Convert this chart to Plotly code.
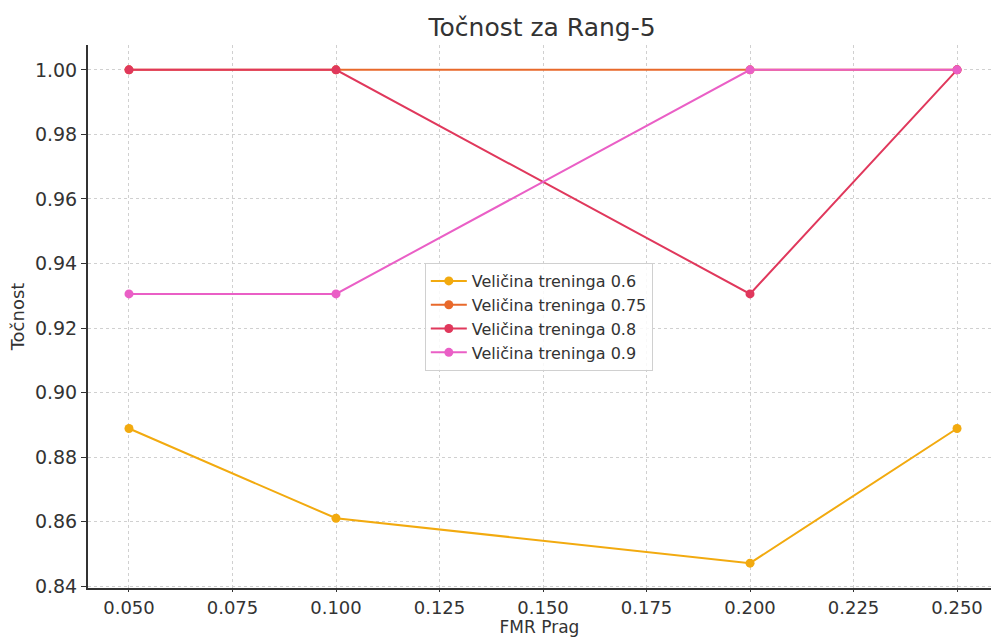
import plotly.graph_objects as go

fmr = [0.05, 0.10, 0.20, 0.25]
series_names = ["Veličina treninga 0.6", "Veličina treninga 0.75", "Veličina treninga 0.8", "Veličina treninga 0.9"]
acc_06 = [0.8889, 0.8611, 0.8472, 0.8889]
acc_075 = [1.0, 1.0, 1.0, 1.0]
acc_08 = [1.0, 1.0, 0.9306, 1.0]
acc_09 = [0.9306, 0.9306, 1.0, 1.0]
colors = ["#F2AA0F", "#E8692B", "#E0385C", "#EA5FC6"]
x_ticks = [0.05, 0.075, 0.1, 0.125, 0.15, 0.175, 0.2, 0.225, 0.25]
y_ticks = [0.84, 0.86, 0.88, 0.90, 0.92, 0.94, 0.96, 0.98, 1.00]

fig = go.Figure()
for name, vals, c in zip(series_names, [acc_06, acc_075, acc_08, acc_09], colors):
    fig.add_trace(go.Scatter(x=fmr, y=vals, mode="lines+markers", name=name,
                             line=dict(color=c, width=2), marker=dict(color=c, size=9)))

fig.update_layout(
    width=991, height=637,
    paper_bgcolor="white", plot_bgcolor="white",
    margin=dict(l=88, r=0, t=45, b=49, autoexpand=False),
    font=dict(family="DejaVu Sans", color="#333333"),
    title=dict(text="Točnost za Rang-5", x=0.547, xanchor="center", y=0.957, yanchor="middle",
               font=dict(size=25, color="#333333")),
    legend=dict(x=0.373, y=0.5985, xanchor="left", yanchor="top",
                bgcolor="rgba(255,255,255,0.85)", bordercolor="#d0d0d0", borderwidth=1,
                font=dict(size=16, color="#333333"), tracegroupgap=0, itemwidth=36),
    showlegend=True,
)
fig.update_xaxes(range=[0.0401, 0.2582], tickvals=x_ticks, ticktext=[f"{v:.3f}" for v in x_ticks],
                 automargin=False,
                 showgrid=True, gridcolor="#d0d0d0", griddash="3px,3px", gridwidth=1,
                 showline=True, linecolor="#333333", linewidth=2, ticks="outside", ticklen=2,
                 tickcolor="#333333", tickfont=dict(size=18), zeroline=False,
                 title=dict(text="FMR Prag", font=dict(size=17), standoff=7))
fig.update_yaxes(range=[0.8395, 1.0077], tickvals=y_ticks, ticktext=[f"{v:.2f}" for v in y_ticks],
                 automargin=False,
                 showgrid=True, gridcolor="#d0d0d0", griddash="3px,3px", gridwidth=1,
                 showline=True, linecolor="#333333", linewidth=2, ticks="outside", ticklen=5,
                 tickcolor="#333333", tickfont=dict(size=19), zeroline=False,
                 title=dict(text="Točnost", font=dict(size=18), standoff=6))

fig.write_html("out.html", config={"displayModeBar": False},
               post_script="document.body.style.margin='0';document.body.style.overflow='hidden';")
